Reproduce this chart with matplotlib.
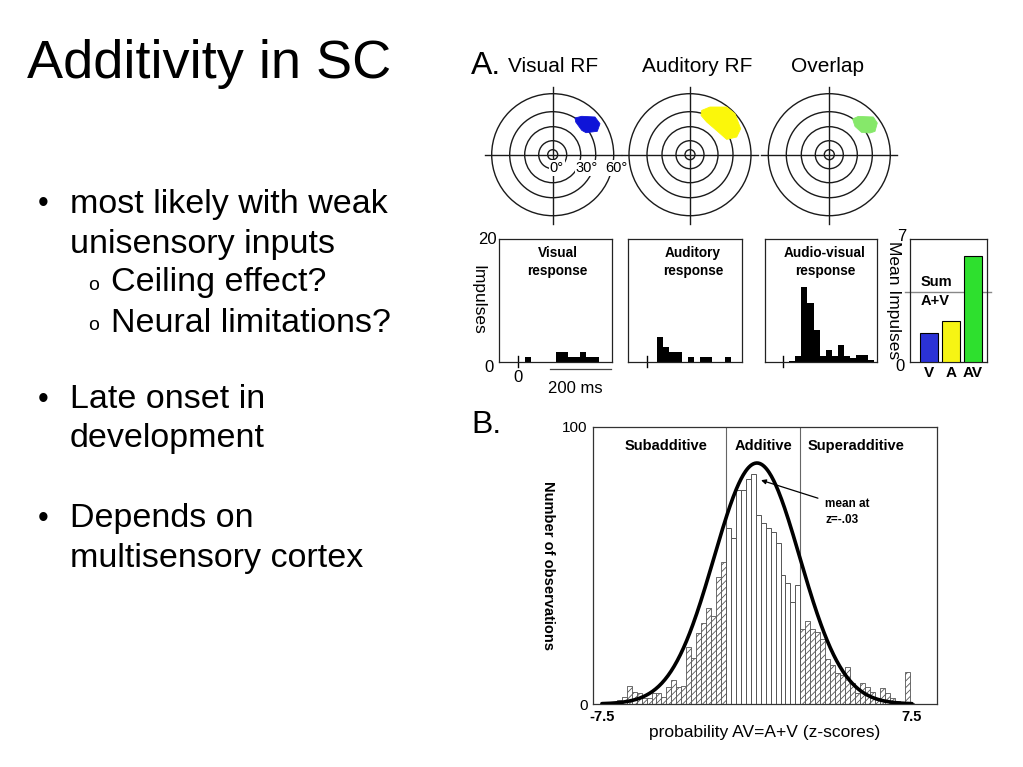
import numpy as np
import matplotlib
matplotlib.use("Agg")
import matplotlib.pyplot as plt
from matplotlib.patches import Circle, Polygon

plt.rcParams['font.family'] = ['Liberation Sans', 'DejaVu Sans']
plt.rcParams['hatch.linewidth'] = 0.6

W, H = 1023, 767

# ------------------------------------------------------------------ data
title = "Additivity in SC"
bullet_lines = [
    ("•", "most likely with weak"),
    ("", "unisensory inputs"),
    ("o", "Ceiling effect?"),
    ("o", "Neural limitations?"),
    ("•", "Late onset in"),
    ("", "development"),
    ("•", "Depends on"),
    ("", "multisensory cortex"),
]
bullet_levels = [0, 0, 1, 1, 0, 0, 0, 0]

rf_titles = ["Visual RF", "Auditory RF", "Overlap"]
ring_radii_deg = [5, 14, 28, 43, 61]
ring_labels = ["0°", "30°", "60°"]
ring_label_pos = [4, 34, 64]
visual_rf_az = [22.3, 29.0, 42.3, 47.3, 44.6, 33.3, 29.0, 23.0]
visual_rf_el = [36.7, 38.4, 37.7, 31.0, 23.4, 22.0, 24.4, 32.7]
auditory_rf_az = [11.7, 20.0, 36.7, 45.0, 50.7, 46.7, 36.7, 28.3, 16.7, 11.0]
auditory_rf_el = [44.3, 47.7, 47.7, 41.0, 26.0, 17.7, 15.3, 22.7, 32.7, 39.3]
overlap_rf_az = [23.3, 29.0, 44.0, 48.0, 45.7, 40.7, 32.3, 25.7]
overlap_rf_el = [35.7, 38.3, 37.7, 31.7, 23.3, 21.7, 22.3, 28.3]
rf_colors = ["#0f14d8", "#fbf70a", "#86e86a"]

psth_titles = ["Visual\nresponse", "Auditory\nresponse", "Audio-visual\nresponse"]
bin_ms = 20
visual_start_ms = 25
visual_psth = [0.7, 0, 0, 0, 0, 1.6, 1.6, 0.7, 0.7, 1.6, 0.7, 0.7]
auditory_start_ms = 33
auditory_psth = [4.1, 2.4, 1.5, 1.5, 0, 0.7, 0, 0.7, 0.7, 0, 0, 0.7]
av_start_ms = 20
av_psth = [0.15, 1.0, 12.1, 9.5, 5.2, 1.0, 1.9, 1.0, 2.8, 1.0, 0.6, 1.1, 1.1, 0.2]

mean_labels = ["V", "A", "AV"]
mean_impulses = [1.65, 2.32, 6.03]
mean_colors = ["#2b32d6", "#f6f414", "#2ee02e"]

hist_start = -7.02
hist_bin = 0.24
hist_counts = [
    0.8, 1.4, 2.6, 6.6, 4.5, 3.9, 2.0, 2.0, 3.9, 4.1, 2.4, 6.3,
    8.7, 6.3, 6.6, 20.7, 16.5, 25.5, 29.2, 34.6, 31.6, 46.0, 51.4,
    63.4, 59.8, 77.3, 77.3, 81.1, 82.9, 68.2, 65.2, 63.4, 62.2, 58.0,
    46.6, 43.6, 36.9, 43.0,
    27.1, 30.1, 27.1, 26.1, 23.3, 16.1, 14.1, 11.3, 10.5, 13.2, 7.7,
    3.9, 7.7, 6.3, 4.5, 2.0, 5.7, 3.9, 2.0, 1.2, 0.8, 11.4, 0.5,
]
additive_lo, additive_hi = -1.5, 2.1
region_labels = ["Subadditive", "Additive", "Superadditive"]
curve_mean, curve_sd, curve_peak = 0.0, 2.08, 87.0
curve_range = (-7.5, 7.5)

# ------------------------------------------------------------------ figure
fig = plt.figure(figsize=(W / 100, H / 100), dpi=100)
fig.patch.set_facecolor("white")


def add_ax(x0, y0, x1, y1, **kw):
    return fig.add_axes([x0 / W, 1 - y1 / H, (x1 - x0) / W, (y1 - y0) / H], **kw)


bg = add_ax(0, 0, W, H)
bg.set_xlim(0, W)
bg.set_ylim(H, 0)
bg.axis("off")

# left text
bg.text(27, 64, title, fontsize=39, va="center", ha="left")
line_y = [204, 244, 283, 323, 400, 439, 519, 558]
for (mark, txt), lvl, y in zip(bullet_lines, bullet_levels, line_y):
    if lvl == 0:
        if mark:
            bg.text(38, y, mark, fontsize=22, va="center", ha="left")
        bg.text(70, y, txt, fontsize=24.5, va="center", ha="left")
    else:
        bg.text(88, y + 3, mark, fontsize=14, va="center", ha="left")
        bg.text(111, y, txt, fontsize=24.5, va="center", ha="left")

# Panel A headers
bg.text(471, 66, "A.", fontsize=23, va="center", ha="left")
for cx, t in zip([553, 697, 827], rf_titles):
    bg.text(cx, 67, t, fontsize=15, va="center", ha="center")
bg.text(471, 425, "B.", fontsize=23, va="center", ha="left")

# RF diagrams
rf_centers = [552.7, 690.0, 829.3]
rf_cy = 154.7
rf_polys = [(visual_rf_az, visual_rf_el), (auditory_rf_az, auditory_rf_el),
            (overlap_rf_az, overlap_rf_el)]
for i, (cx, (az, el), col) in enumerate(zip(rf_centers, rf_polys, rf_colors)):
    ax = add_ax(cx - 72, rf_cy - 72, cx + 72, rf_cy + 72)
    ax.set_xlim(-72, 72)
    ax.set_ylim(-72, 72)
    ax.axis("off")
    for r in ring_radii_deg:
        ax.add_patch(Circle((0, 0), r, fill=False, lw=1.0, ec="#1a1a1a", zorder=2))
    ax.plot([-68, 68], [0, 0], color="#1a1a1a", lw=1.0, zorder=2)
    ax.plot([0, 0], [-69, 68], color="#1a1a1a", lw=1.0, zorder=2)
    ax.add_patch(Polygon(np.column_stack([az, el]), closed=True, fc=col,
                         ec=col, lw=0.6, zorder=3))
    if i == 0:
        for lab, xp in zip(ring_labels, ring_label_pos):
            ax.text(xp, -13, lab, fontsize=10.5, ha="center", va="center", zorder=4,
                    bbox=dict(fc="white", ec="none", pad=0.6))

# PSTHs
psth_boxes = [(499.3, 611.7), (628.3, 741.7), (765.0, 876.7)]
psth_data = [(visual_start_ms, visual_psth), (auditory_start_ms, auditory_psth),
             (av_start_ms, av_psth)]
title_fx = [0.52, 0.57, 0.537]
for k, ((x0, x1), (st, cnt), ttl, fx) in enumerate(zip(psth_boxes, psth_data,
                                                     psth_titles, title_fx)):
    ax = add_ax(x0, 239, x1, 361.7)
    lefts = st + bin_ms * np.arange(len(cnt))
    ax.bar(lefts, cnt, width=bin_ms, align="edge", color="black", lw=0)
    ax.set_xlim(-60, 308)
    ax.set_ylim(0, 20)
    ax.set_xticks([])
    ax.set_yticks([])
    for s in ax.spines.values():
        s.set_linewidth(0.9)
        s.set_color("#222222")
    ax.plot([0, 0], [-0.9, 0.9], color="black", lw=1.0, clip_on=False)
    ax.text(fx, 0.94, ttl, transform=ax.transAxes, ha="center", va="top",
            fontsize=9.8, fontweight="bold", linespacing=1.3)
    if k == 0:
        ax.text(-0.025, 1.0, "20", transform=ax.transAxes, ha="right", va="center",
                fontsize=12)
        ax.text(-0.05, -0.05, "0", transform=ax.transAxes, ha="right", va="center",
                fontsize=12)
        ax.text(0, -2.5, "0", ha="center", va="center", fontsize=12)
        ax.plot([107, 307], [-1.2, -1.2], color="#444444", lw=0.9, clip_on=False)
        ax.text(190, -4.4, "200 ms", ha="center", va="center", fontsize=12)
        ax.set_ylabel("Impulses", rotation=270, fontsize=12.5, labelpad=16, va="center")
        ax.yaxis.set_label_coords(-0.19, 0.5)

# mean impulses bar chart
ax = add_ax(910, 239, 986.7, 361.7)
xs = np.arange(len(mean_impulses))
ax.bar(xs, mean_impulses, width=0.84, color=mean_colors, edgecolor="black", lw=0.8,
       zorder=3)
sum_av = mean_impulses[0] + mean_impulses[1]
ax.axhline(sum_av, xmin=-0.06, xmax=1.06, color="#888888", lw=1.0, clip_on=False,
           zorder=2)
ax.set_xlim(-0.88, 2.64)
ax.set_ylim(0, 7)
ax.set_xticks(xs)
ax.set_xticklabels(mean_labels, fontsize=11, fontweight="bold")
ax.tick_params(axis="x", length=0, pad=3)
ax.set_yticks([])
for s in ax.spines.values():
    s.set_linewidth(0.9)
    s.set_color("#222222")
ax.text(-0.05, 1.02, "7", transform=ax.transAxes, ha="right", va="center", fontsize=12)
ax.text(-0.07, -0.04, "0", transform=ax.transAxes, ha="right", va="center", fontsize=12)
ax.text(0.14, 0.57, "Sum\nA+V", transform=ax.transAxes, ha="left", va="center",
        fontsize=10.5, fontweight="bold", linespacing=1.45)
ax.set_ylabel("Mean Impulses", rotation=270, fontsize=12.5, va="center")
ax.yaxis.set_label_coords(-0.22, 0.5)

# histogram
ax = add_ax(593, 427, 937, 704)
edges = hist_start + hist_bin * np.arange(len(hist_counts))
centers = edges + hist_bin / 2
is_add = (centers > additive_lo) & (centers < additive_hi)
ax.bar(edges[~is_add], np.array(hist_counts)[~is_add], width=hist_bin, align="edge",
       fc="white", ec="#555555", lw=0.6, hatch="/////", zorder=2)
ax.bar(edges[is_add], np.array(hist_counts)[is_add], width=hist_bin, align="edge",
       fc="white", ec="#555555", lw=0.7, zorder=2)
zc = np.linspace(curve_range[0], curve_range[1], 400)
ax.plot(zc, curve_peak * np.exp(-0.5 * ((zc - curve_mean) / curve_sd) ** 2),
        color="black", lw=2.6, zorder=4, solid_capstyle="round")
for xv in (additive_lo, additive_hi):
    ax.axvline(xv, color="#666666", lw=0.8, zorder=1)
ax.set_xlim(-7.93, 8.71)
ax.set_ylim(0, 100)
ax.set_xticks([-7.5, 7.5])
ax.set_xticklabels(["-7.5", "7.5"], fontsize=10.5, fontweight="bold")
ax.set_yticks([0, 100])
ax.set_yticklabels(["0", "100"], fontsize=11)
ax.tick_params(length=0, pad=4)
for s in ax.spines.values():
    s.set_linewidth(0.9)
    s.set_color("#333333")
label_x = [(-7.93 + additive_lo) / 2 + 0.3, (additive_lo + additive_hi) / 2,
           (additive_hi + 8.71) / 2 - 0.6]
for lx, lab in zip(label_x, region_labels):
    ax.text(lx, 93, lab, ha="center", va="center", fontsize=10.5, fontweight="bold")
ax.annotate("", xy=(0.2, 80.8), xytext=(2.95, 74.3),
            arrowprops=dict(arrowstyle="-|>", color="black", lw=0.9,
                            mutation_scale=7, shrinkA=0, shrinkB=0))
ax.text(3.3, 74.5, "mean at\nz=-.03", ha="left", va="top", fontsize=8.5,
        fontweight="bold", linespacing=1.5)
ax.set_xlabel("probability AV=A+V (z-scores)", fontsize=12.5, labelpad=1)
ax.set_ylabel("Number of observations", rotation=270, fontsize=10.5,
              fontweight="bold", va="center")
ax.yaxis.set_label_coords(-0.13, 0.5)

fig.savefig("out.png", dpi=100, facecolor="white")
